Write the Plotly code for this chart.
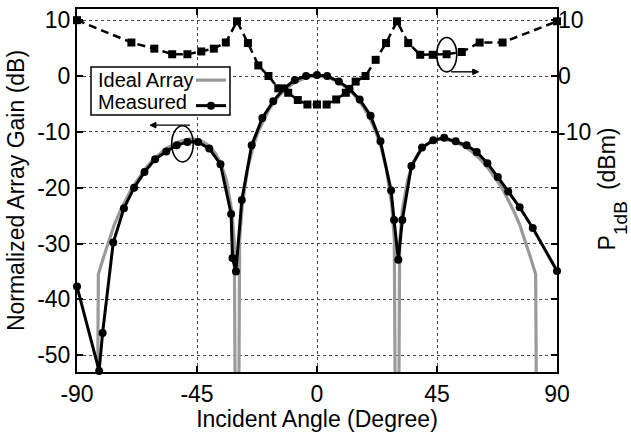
import plotly.graph_objects as go

# Ideal 4-element array factor (dB) versus incident angle (degrees)
ideal_angle = [-83, -82, -80, -78, -76, -74, -72, -70, -68, -66, -64, -62, -60, -58, -56,
               -54, -52, -50, -48, -46, -44, -42, -40, -38, -36, -34, -32, -31, -30, -29,
               -28, -26, -24, -22, -20, -18, -16, -14, -12, -10, -8, -6, -4, -2, 0,
               2, 4, 6, 8, 10, 12, 14, 16, 18, 20, 22, 24, 26, 28, 29, 30, 31, 32, 34,
               36, 38, 40, 42, 44, 46, 48, 50, 52, 54, 56, 58, 60, 62, 64, 66, 68, 70,
               72, 74, 76, 78, 80, 82, 83]
ideal_gain = [-120, -35.5, -32.4, -29.3, -26.6, -24.4, -22.4, -20.6, -19.1, -17.7, -16.4,
              -15.3, -14.4, -13.5, -12.8, -12.3, -11.8, -11.5, -11.3, -11.3, -11.5, -12.0,
              -12.7, -13.9, -15.7, -18.6, -24.0, -29.7, -120, -29.2, -23.0, -16.6, -12.7,
              -9.9, -7.8, -6.0, -4.6, -3.4, -2.5, -1.7, -1.1, -0.6, -0.26, -0.07, 0.0,
              -0.07, -0.26, -0.6, -1.1, -1.7, -2.5, -3.4, -4.6, -6.0, -7.8, -9.9, -12.7,
              -16.6, -23.0, -29.2, -120, -29.7, -24.0, -18.6, -15.7, -13.9, -12.7, -12.0,
              -11.5, -11.3, -11.3, -11.5, -11.8, -12.3, -12.8, -13.5, -14.4, -15.3, -16.4,
              -17.7, -19.1, -20.6, -22.4, -24.4, -26.6, -29.3, -32.4, -35.5, -120]

# Measured normalized array gain (dB)
meas_angle = [-90, -81.7, -80.4, -76.4, -72.4, -68.6, -64.7, -60.7, -56.5, -52.6, -48.6,
              -44.6, -40.4, -36.2, -32.2, -31.7, -30.4, -28.2, -24.5, -20.5, -16.4, -12.3,
              -8.3, -4.1, 0, 3.8, 8.2, 12.2, 16.0, 20.1, 23.8, 27.8, 28.9, 30.5, 32.0,
              35.4, 39.4, 43.6, 47.7, 52.0, 56.1, 59.9, 63.9, 67.8, 71.7, 76.0, 80.9, 90]
meas_gain = [-37.7, -52.8, -46.0, -29.8, -23.7, -20.0, -17.2, -14.9, -13.5, -12.4, -11.8,
             -11.8, -13.0, -15.8, -24.7, -32.6, -35.0, -22.2, -12.4, -7.5, -4.5, -2.2,
             -0.7, 0.0, 0.2, 0.0, -1.0, -2.3, -4.2, -7.1, -11.7, -20.5, -25.8, -32.9, -25.8,
             -16.1, -12.8, -11.5, -11.05, -11.7, -12.4, -13.6, -15.6, -18.1, -20.7, -23.5,
             -27.2, -34.9]

# Measured input-referred P1dB (dBm)
p1db_angle = [-90, -69.6, -61.0, -54.3, -48.6, -43.4, -38.7, -34.2, -30, -25.9, -22.0,
              -18.2, -14.5, -10.8, -7.2, -3.6, 0, 3.6, 7.2, 10.8, 14.5, 18.2, 22.0, 25.9,
              30, 34.2, 38.7, 43.4, 48.6, 54.3, 61.0, 69.6, 90]
p1db_dbm = [10.0, 6.0, 4.9, 3.9, 3.9, 4.4, 4.9, 6.0, 9.8, 5.9, 1.9, 0.0, -2.2, -3.0, -4.3,
            -5.1, -5.1, -5.1, -4.2, -3.0, -1.0, 0.0, 2.9, 5.9, 9.8, 5.9, 3.8, 3.8, 3.9,
            4.3, 6.0, 6.0, 9.8]

x_ticks = [-90, -45, 0, 45, 90]
y_ticks = [-50, -40, -30, -20, -10, 0, 10]
y2_ticks = [-10, 0, 10]
y_range = [-53, 12]

FONT = "Liberation Sans, Arial, Helvetica, sans-serif"
GRAY = "#9a9a9a"

fig = go.Figure()
fig.add_trace(go.Scatter(x=ideal_angle, y=ideal_gain, mode="lines", name="Ideal Array",
                         line=dict(color=GRAY, width=3.2)))
fig.add_trace(go.Scatter(x=meas_angle, y=meas_gain, mode="lines+markers", name="Measured",
                         line=dict(color="black", width=3), cliponaxis=False,
                         marker=dict(symbol="circle", size=8, color="black")))
fig.add_trace(go.Scatter(x=p1db_angle, y=p1db_dbm, mode="lines+markers", name="P1dB",
                         yaxis="y2", cliponaxis=False,
                         line=dict(color="black", width=2.5, dash="8px,5px"),
                         marker=dict(symbol="square", size=8, color="black")))

# plot area in pixels: x 77..557, y 7..377
L, R, T, B = 77, 557, 7, 377
def px(x):
    return (x - L) / (R - L)
def py(y):
    return (B - y) / (B - T)

def arrow(x_tail, x_head, y, yref):
    # horizontal arrow: shaft plus a filled triangular head
    d = 2.2 if x_head > x_tail else -2.2
    return [
        dict(type="line", xref="x", yref=yref, x0=x_tail, x1=x_head - d * 0.5, y0=y, y1=y,
             line=dict(color="black", width=1.4)),
        dict(type="path", xref="x", yref=yref,
             path=f"M {x_head},{y} L {x_head - d},{y + 0.5} L {x_head - d},{y - 0.5} Z",
             fillcolor="black", line=dict(color="black", width=1)),
    ]

shapes = [
    # ellipse marking gain curve (left axis)
    dict(type="circle", xref="x", yref="y", x0=-54.5, x1=-46.4, y0=-15.4, y1=-8.9,
         line=dict(color="black", width=1.6)),
    # ellipse marking P1dB curve (right axis)
    dict(type="circle", xref="x", yref="y2", x0=44.9, x1=52.4, y0=0.75, y1=6.9,
         line=dict(color="black", width=1.6)),
]
shapes += arrow(-47.6, -62.6, -8.8, "y")
shapes += arrow(50.3, 60.6, 0.75, "y2")
shapes += [
    # legend box
    dict(type="rect", xref="paper", yref="paper", x0=px(91), x1=px(230), y0=py(115), y1=py(66),
         line=dict(color="black", width=1.5), fillcolor="white", layer="above"),
    dict(type="line", xref="paper", yref="paper", x0=px(196), x1=px(226), y0=py(79.5), y1=py(79.5),
         line=dict(color=GRAY, width=3.2), layer="above"),
    dict(type="line", xref="paper", yref="paper", x0=px(196), x1=px(226), y0=py(105.5), y1=py(105.5),
         line=dict(color="black", width=3), layer="above"),
    dict(type="circle", xref="paper", yref="paper", xsizemode="pixel", ysizemode="pixel",
         xanchor=px(211), yanchor=py(105.5), x0=-4, x1=4, y0=-4, y1=4,
         fillcolor="black", line=dict(color="black", width=0), layer="above"),
]

def rot_text(text, x, y, size):
    return dict(x=px(x), y=py(y), xref="paper", yref="paper", text=text, showarrow=False,
                textangle=-90, xanchor="center", yanchor="middle",
                font=dict(family=FONT, size=size, color="black"))

annotations = [
    dict(x=px(96), y=py(79), xref="paper", yref="paper", text="Ideal Array", showarrow=False,
         xanchor="left", yanchor="middle", font=dict(family=FONT, size=20, color="black")),
    dict(x=px(96), y=py(102), xref="paper", yref="paper", text="Measured", showarrow=False,
         xanchor="left", yanchor="middle", font=dict(family=FONT, size=20, color="black")),
    # right-axis title: P with subscript 1dB, then unit
    rot_text("P", 607, 246, 23),
    rot_text("1dB", 621, 220, 19),
    rot_text("(dBm)", 607, 160, 23),
]

axis_common = dict(
    showline=True, linecolor="black", linewidth=2, mirror="ticks",
    ticks="inside", ticklen=6, tickwidth=1.5, tickcolor="black",
    showgrid=True, gridcolor="#444", gridwidth=1, griddash="dot",
    zeroline=False, tickfont=dict(family=FONT, size=23, color="black"),
)

fig.update_layout(
    width=631, height=432,
    margin=dict(l=L, r=631 - R, t=T, b=432 - B),
    paper_bgcolor="white", plot_bgcolor="white",
    showlegend=False,
    font=dict(family=FONT, color="black"),
    xaxis=dict(range=[-90, 90], tickvals=x_ticks, ticktext=[str(v) for v in x_ticks],
               title=dict(text="Incident Angle (Degree)", standoff=2,
                          font=dict(family=FONT, size=23, color="black")),
               **axis_common),
    yaxis=dict(range=y_range, tickvals=y_ticks, ticktext=[str(v) for v in y_ticks],
               title=dict(text="Normalized Array Gain (dB)", standoff=6,
                          font=dict(family=FONT, size=23, color="black")),
               **axis_common),
    yaxis2=dict(range=y_range, overlaying="y", side="right", tickvals=y2_ticks,
                ticktext=[str(v) for v in y2_ticks], ticks="", showgrid=False,
                showline=False, zeroline=False,
                tickfont=dict(family=FONT, size=23, color="black")),
    shapes=shapes,
    annotations=annotations,
)

fig.write_html("out.html")
